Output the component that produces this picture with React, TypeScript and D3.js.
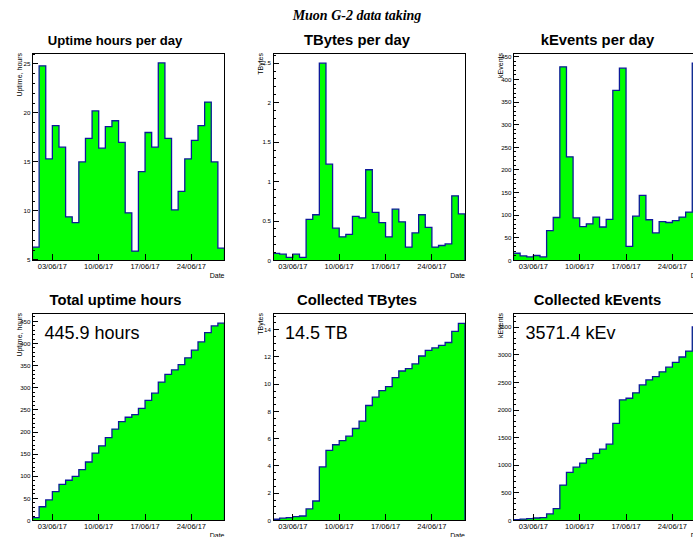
import React, { useLayoutEffect } from "react";
import * as d3 from "d3";

// ---------------- data ----------------
const START_DATE = "2017-05-31";
const N_DAYS = 29;

const uptimeDaily = [6.3, 24.8, 15.3, 18.7, 16.5, 9.4, 8.8, 15.0, 17.4, 20.2, 16.4, 18.6, 19.2, 17.0, 9.8, 5.9, 14.0, 18.0, 16.5, 25.1, 17.4, 10.1, 12.0, 15.3, 17.2, 18.7, 21.1, 15.0, 6.2];
const tbytesDaily = [0.09, 0.08, 0.04, 0.08, 0.04, 0.52, 0.58, 2.5, 1.22, 0.41, 0.3, 0.33, 0.56, 0.54, 1.15, 0.61, 0.48, 0.3, 0.65, 0.49, 0.17, 0.35, 0.58, 0.42, 0.17, 0.19, 0.21, 0.82, 0.59];
const keventsDaily = [16, 10, 8, 11, 8, 66, 95, 428, 229, 94, 75, 81, 96, 74, 91, 376, 425, 31, 98, 144, 90, 61, 86, 84, 88, 96, 107, 436, 67];

const mainTitle = "Muon G-2 data taking";
const padTitles = ["Uptime hours per day", "TBytes per day", "kEvents per day", "Total uptime hours", "Collected TBytes", "Collected kEvents"];
const yTitles = ["Uptime, hours", "TBytes", "kEvents", "Uptime, hours", "TBytes", "kEvents"];
const totalTexts = ["", "", "", "445.9 hours", "14.5 TB", "3571.4 kEv"];
const xAxisTitle = "Date";

// ---------------- layout ----------------
const W = 693;
const H = 537;
const PAD_W = 240.5;
const FRAME_X0 = 32.5;
const FRAME_W = 192;
const ROW_TOP = [53.5, 313.5];
const FRAME_H = 207;
const SANS = "'Liberation Sans', Arial, Helvetica, sans-serif";
const SERIF = "'Liberation Serif', 'Times New Roman', serif";
const FILL = "#00ff00";
const LINE = "#0d1a99";

type PanelCfg = {
  values: number[];
  title: string;
  titleSize: number;
  titleDx: number;
  yTitle: string;
  major: number;
  minor: number;
  text: string;
};

function rootRange(vals: number[]): [number, number] {
  const mn = d3.min(vals) as number;
  const mx = d3.max(vals) as number;
  const m = 0.05 * (mx - mn);
  let lo = mn - m;
  if (mn >= 0 && lo < 0) lo = 0;
  return [lo, mx + m];
}

function Panel({ cfg, col, row }: { cfg: PanelCfg; col: number; row: number }) {
  const padLeft = col * PAD_W;
  const fl = FRAME_X0 + padLeft;
  const fr = fl + FRAME_W;
  const ft = ROW_TOP[row];
  const fb = ft + FRAME_H;

  const start = d3.utcParse("%Y-%m-%d")(START_DATE) as Date;
  const end = d3.utcDay.offset(start, N_DAYS);
  const x = d3.scaleUtc().domain([start, end]).range([fl, fr]);
  const [lo, hi] = rootRange(cfg.values);
  const y = d3.scaleLinear().domain([lo, hi]).range([fb, ft]);

  const pts: [number, number][] = [];
  cfg.values.forEach((v, i) => {
    const a = d3.utcDay.offset(start, i);
    const b = d3.utcDay.offset(start, i + 1);
    pts.push([x(a), y(v)]);
    pts.push([x(b), y(v)]);
  });
  const area = d3.area<[number, number]>().x((d) => d[0]).y0(fb).y1((d) => d[1]);
  const outlinePts: [number, number][] = [[fl, fb], ...pts, [fr, fb]];
  const line = d3.line<[number, number]>().x((d) => d[0]).y((d) => d[1]);

  const eps = 1e-9;
  const majors = d3.range(Math.ceil(lo / cfg.major - eps) * cfg.major, hi + eps, cfg.major).map((v) => +v.toFixed(6));
  const minors = d3.range(Math.ceil(lo / cfg.minor - eps) * cfg.minor, hi + eps, cfg.minor).map((v) => +v.toFixed(6));
  const fmt = d3.format("~g");
  const xTicks = d3.utcSaturday.range(start, end);
  const xFmt = d3.utcFormat("%d/%m/%y");
  const clipId = `clip-${row}-${col}`;
  const titleY = row === 0 ? 45 : 304.5;

  return (
    <g>
      <defs>
        <clipPath id={clipId}>
          <rect x={fl} y={ft} width={FRAME_W} height={FRAME_H} />
        </clipPath>
      </defs>
      <text x={padLeft + cfg.titleDx} y={titleY} textAnchor="middle" fontFamily={SANS} fontWeight="bold" fontSize={cfg.titleSize} fill="#000">
        {cfg.title}
      </text>
      <g clipPath={`url(#${clipId})`}>
        <path d={area(pts) || ""} fill={FILL} />
        <path d={line(outlinePts) || ""} fill="none" stroke={LINE} strokeWidth={1.3} />
      </g>
      <rect x={fl} y={ft} width={FRAME_W} height={FRAME_H} fill="none" stroke="#000" strokeWidth={1} shapeRendering="crispEdges" />
      <g shapeRendering="crispEdges" stroke="#000" strokeWidth={1}>
        {minors.map((v) => (
          <line key={"mn" + v} x1={fl} x2={fl + 2.9} y1={y(v)} y2={y(v)} />
        ))}
        {majors.map((v) => (
          <line key={"mj" + v} x1={fl} x2={fl + 5.7} y1={y(v)} y2={y(v)} />
        ))}
        {xTicks.map((d) => (
          <line key={"xt" + d.getTime()} x1={x(d)} x2={x(d)} y1={fb} y2={fb - 6.2} />
        ))}
      </g>
      {majors.map((v) => (
        <text key={"yl" + v} x={fl - 2} y={y(v)} dy="0.35em" textAnchor="end" fontFamily={SANS} fontSize={6.2} fill="#000">
          {fmt(v)}
        </text>
      ))}
      {xTicks.map((d) => (
        <text key={"xl" + d.getTime()} x={x(d)} y={fb + 8} textAnchor="middle" fontFamily={SANS} fontSize={7.5} fill="#000">
          {xFmt(d)}
        </text>
      ))}
      <text x={fr} y={fb + 17} textAnchor="end" fontFamily={SANS} fontSize={7} fill="#000">
        {xAxisTitle}
      </text>
      <text transform={`translate(${padLeft + 22},${ft - 0.5}) rotate(-90)`} textAnchor="end" fontFamily={SANS} fontSize={7} fill="#000">
        {cfg.yTitle}
      </text>
      {cfg.text ? (
        <text x={fl + 12} y={339} fontFamily={SANS} fontSize={18} fill="#000">
          {cfg.text}
        </text>
      ) : null}
    </g>
  );
}

export default function App() {
  useLayoutEffect(() => {
    document.body.style.margin = "0";
  }, []);

  const uptimeCum = Array.from(d3.cumsum(uptimeDaily));
  const tbytesCum = Array.from(d3.cumsum(tbytesDaily));
  const keventsCum = Array.from(d3.cumsum(keventsDaily));

  const seriesList = [uptimeDaily, tbytesDaily, keventsDaily, uptimeCum, tbytesCum, keventsCum];
  const titleSizes = [13.1, 14.8, 14.8, 14.8, 14.8, 14.8];
  const titleDx = [115, 116.5, 116.5, 115.5, 116.5, 116.5];
  const majorSteps = [5, 0.5, 50, 50, 2, 500];
  const minorSteps = [1, 0.1, 10, 10, 0.5, 100];

  const cfgs: PanelCfg[] = seriesList.map((values, i) => ({
    values,
    title: padTitles[i],
    titleSize: titleSizes[i],
    titleDx: titleDx[i],
    yTitle: yTitles[i],
    major: majorSteps[i],
    minor: minorSteps[i],
    text: totalTexts[i],
  }));

  return (
    <svg width={W} height={H} viewBox={`0 0 ${W} ${H}`} style={{ display: "block", position: "absolute", left: 0, top: 0, background: "#fff" }}>
      <rect x={0} y={0} width={W} height={H} fill="#fff" />
      <text x={357} y={19.5} textAnchor="middle" fontFamily={SERIF} fontWeight="bold" fontStyle="italic" fontSize={14} fill="#000">
        {mainTitle}
      </text>
      {cfgs.map((cfg, i) => (
        <Panel key={i} cfg={cfg} col={i % 3} row={Math.floor(i / 3)} />
      ))}
    </svg>
  );
}
